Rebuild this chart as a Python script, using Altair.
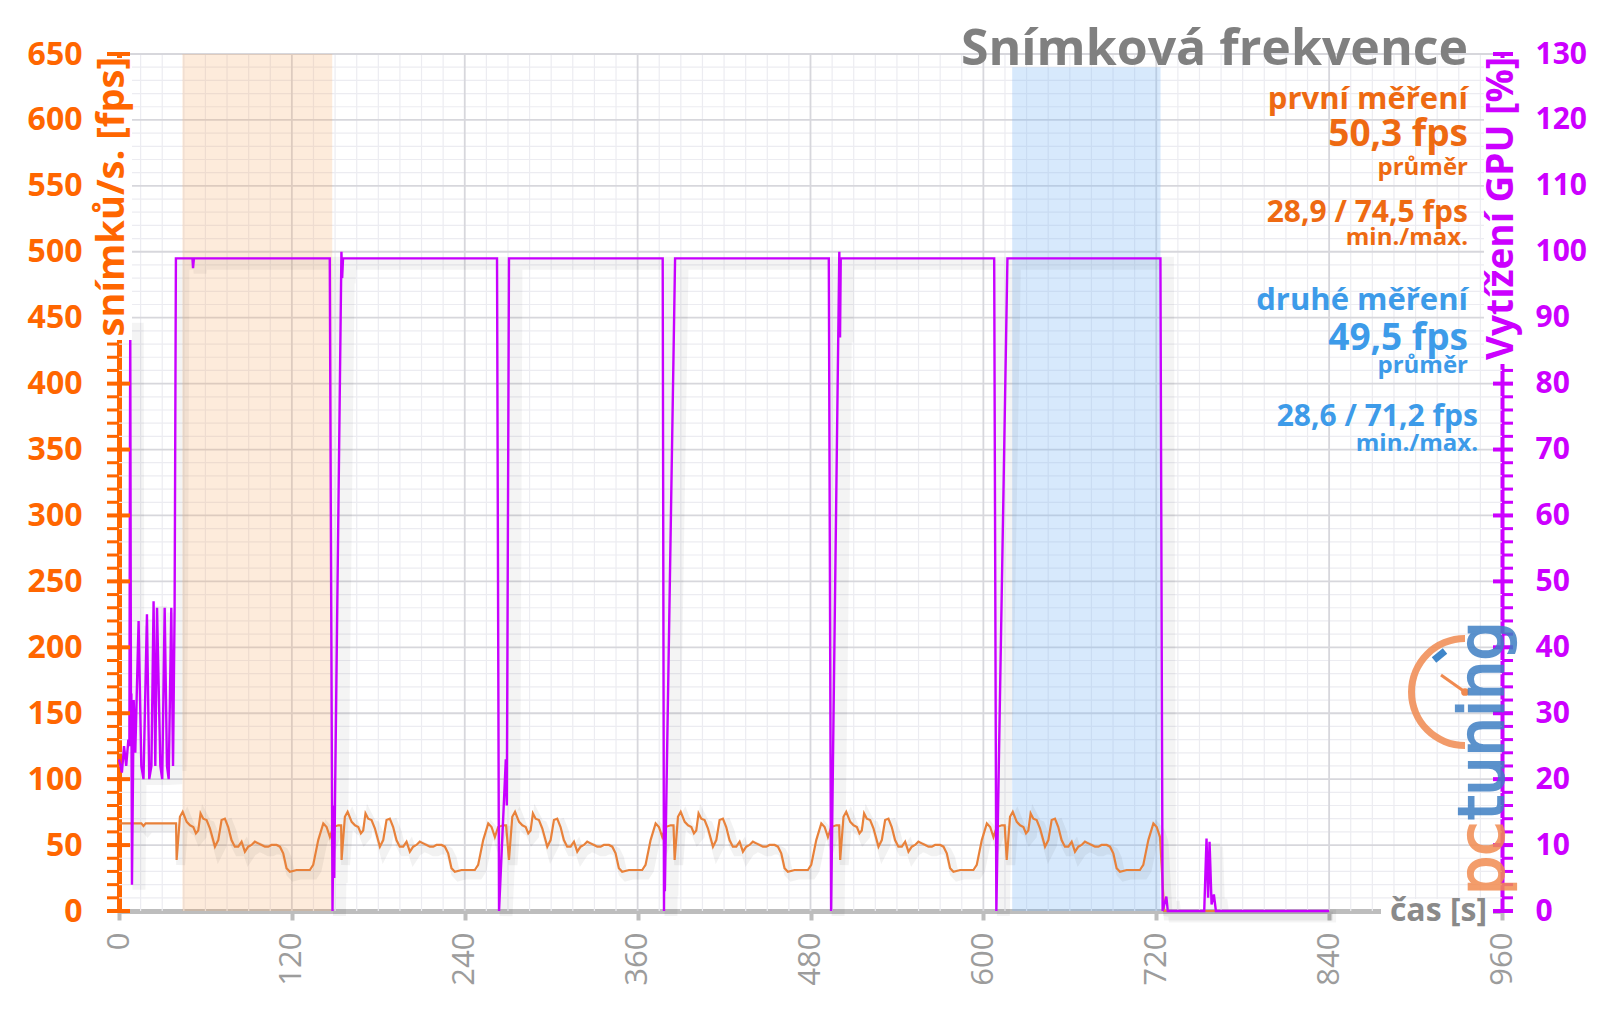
import math
import altair as alt
import pandas as pd

# ---------------- data ----------------
TIME_TICKS = list(range(0, 961, 120))
FPS_TICKS = list(range(0, 651, 50))
GPU_TICKS = list(range(0, 131, 10))

# frame rate: flat intro, six identical benchmark passes, outro
INTRO_T = [0.0, 15.5, 17.0, 18.5, 39.6]
INTRO_FPS = [66.5, 66.5, 64.5, 66.5, 66.5]
RUN_STARTS = [40.0, 154.5, 270.7, 385.7, 500.6, 616.2]
RUN_OFFSETS = [0.0, 2.3, 4.2, 7.0, 9.3, 11.6, 13.4, 15.0, 16.6, 18.5, 20.8, 23.1,
               26.6, 28.9, 31.2, 33.5, 35.8, 38.1, 40.4, 42.8, 45.1, 47.4, 49.7,
               52.0, 54.3, 56.7, 59.0, 61.3, 63.6, 65.9, 69.4, 71.7, 74.0, 76.3,
               78.6, 83.3, 87.9, 92.5, 94.8, 98.3, 101.8, 104.1, 106.4]
RUN_FPS = [38.7, 71.5, 75.3, 67.6, 65.0, 63.7, 58.9, 61.0, 74.0, 70.0, 69.0, 62.7,
           48.8, 53.8, 69.0, 70.0, 63.7, 53.8, 48.8, 48.8, 52.6, 45.0, 48.8,
           50.1, 52.6, 51.3, 50.1, 48.8, 48.8, 50.1, 50.1, 48.8, 43.8, 32.5,
           29.8, 31.1, 31.1, 31.1, 35.0, 53.8, 66.5, 63.7, 56.1]
GAP_OFFSETS = [108.7, 112.2, 114.2]
GAP_FPS = [63.7, 65.0, 65.0]
OUTRO_T = [725.5, 840.0]
OUTRO_FPS = [0.0, 0.0]

# GPU load [%]
GPU_T = [0, 2, 3.5, 5, 6.5, 7.2, 7.8, 8.3, 8.6, 9.0, 10.2, 11.3, 13.6, 15.5, 17.0,
         19.4, 21.0, 22.5, 24.0, 25.2, 26.4, 28.7, 30.0, 31.7, 33.3, 34.5, 36.3,
         37.5, 38.6, 39.5, 51.0, 51.4, 52.0, 146.3, 148.2, 149.0, 149.4, 150.0,
         154.4, 154.9, 155.5, 262.4, 263.8, 268.5, 269.2, 270.7, 377.4, 378.3,
         378.6, 378.9, 386.0, 492.7, 494.3, 500.0, 500.5, 501.0, 607.5, 609.0,
         616.7, 722.9, 724.4, 727.0, 728.0, 753.3, 754.9, 756.0, 757.0, 758.4,
         760.0, 761.4, 840.0]
GPU_V = [23, 21, 25, 22, 26, 25, 90, 30, 33, 4, 32, 24, 44, 22, 20,
         45, 20, 22, 47, 22, 46, 22, 20, 46, 22, 20, 46,
         22, 46, 99, 99, 97.5, 99, 99, 0, 16, 5, 18,
         100, 96, 99, 99, 0, 23, 16, 99, 99, 0,
         15, 3, 99, 99, 0, 100, 87, 99, 99, 0,
         99, 99, 0, 2.2, 0, 0, 11, 2, 10.5, 1,
         2.5, 0, 0]

ZONE_START = [44, 620]
ZONE_END = [148, 723]
ZONE_TOP = [650, 640]

TITLE = "Snímková frekvence"
FIRST = ["první měření", "50,3 fps", "průměr", "28,9 / 74,5 fps", "min./max."]
SECOND = ["druhé měření", "49,5 fps", "průměr", "28,6 / 71,2 fps", "min./max."]

# ---------------- tables ----------------
rows = list(zip(INTRO_T, INTRO_FPS))
for i, s in enumerate(RUN_STARTS):
    rows += [(s + o, v) for o, v in zip(RUN_OFFSETS, RUN_FPS)]
    if i < len(RUN_STARTS) - 1:
        rows += [(s + o, v) for o, v in zip(GAP_OFFSETS, GAP_FPS)]
rows += list(zip(OUTRO_T, OUTRO_FPS))
fps_df = pd.DataFrame(rows, columns=["t", "fps"])
gpu_df = pd.DataFrame({"t": GPU_T, "gpu": GPU_V})

W, H = 1383, 857
ORANGE = "#ff6600"
ORANGE_TXT = "#ee6a12"
MAGENTA = "#cc00ff"
BLUE = "#3d9be9"
GRAY = "#8a8a8a"

xs = alt.Scale(domain=[0, 960], nice=False, zero=False)
fs = alt.Scale(domain=[0, 650], nice=False)
gs = alt.Scale(domain=[0, 130], nice=False)

x_axis = alt.Axis(values=TIME_TICKS, labelAngle=270, labelFont="Open Sans",
                  labelFontSize=31, labelColor="#9c9c9c", domainColor="#bdbdbd",
                  domainWidth=5, tickColor="#bdbdbd", tickWidth=4, tickSize=9,
                  labelPadding=12, grid=False, title=None, labelFlush=False,
                  labelOverlap=False)


def X(f):
    return alt.X(f, type="quantitative", scale=xs, axis=x_axis)


def one():
    return pd.DataFrame({"a": [0]})


layers = []

# grid
minor_v = pd.DataFrame({"v": [t for t in range(15, 960, 15) if t % 120]})
major_v = pd.DataFrame({"v": TIME_TICKS[1:-1]})
minor_h = pd.DataFrame({"v": [v for v in range(10, 650, 10) if v % 50]})
major_h = pd.DataFrame({"v": FPS_TICKS[1:]})
layers.append(alt.Chart(minor_v).mark_rule(color="#ececf1", strokeWidth=1.2).encode(x=X("v")))
layers.append(alt.Chart(minor_h).mark_rule(color="#ececf1", strokeWidth=1.2).encode(
    y=alt.Y("v:Q", scale=fs, axis=None)))
layers.append(alt.Chart(major_v).mark_rule(color="#d7d7dc", strokeWidth=1.8).encode(x=X("v")))
layers.append(alt.Chart(major_h).mark_rule(color="#d7d7dc", strokeWidth=1.8).encode(
    y=alt.Y("v:Q", scale=fs, axis=None)))

# shaded zones
z1 = pd.DataFrame({"s": [ZONE_START[0]], "e": [ZONE_END[0]], "b": [0], "t": [ZONE_TOP[0]]})
z2 = pd.DataFrame({"s": [ZONE_START[1]], "e": [ZONE_END[1]], "b": [0], "t": [ZONE_TOP[1]]})
layers.append(alt.Chart(z1).mark_rect(color="#f7a35c", opacity=0.22).encode(
    x=X("s"), x2="e", y=alt.Y("b:Q", scale=fs, axis=None), y2="t"))
layers.append(alt.Chart(z2).mark_rect(color="#7ab6f5", opacity=0.3).encode(
    x=X("s"), x2="e", y=alt.Y("b:Q", scale=fs, axis=None), y2="t"))

# shadows
layers.append(alt.Chart(fps_df).mark_line(color="#000000", opacity=0.05, strokeWidth=9,
                                          xOffset=4, yOffset=5).encode(
    x=X("t"), y=alt.Y("fps:Q", scale=fs, axis=None)))
layers.append(alt.Chart(gpu_df).mark_line(color="#000000", opacity=0.045, strokeWidth=13,
                                          xOffset=7, yOffset=5).encode(
    x=X("t"), y=alt.Y("gpu:Q", scale=gs, axis=None)))

# fps line with left axis
layers.append(alt.Chart(fps_df).mark_line(color="#e8813a", strokeWidth=2.2).encode(
    x=X("t"),
    y=alt.Y("fps:Q", scale=fs, axis=alt.Axis(
        orient="left", values=FPS_TICKS, labelFont="Open Sans", labelFontWeight="bold",
        labelFontSize=32, labelColor=ORANGE, domainColor=ORANGE, domainWidth=5,
        ticks=False, tickSize=0, labelPadding=37, grid=False, title=None,
        labelFlush=False, labelOverlap=False))))

# gpu line with right axis
layers.append(alt.Chart(gpu_df).mark_line(color="#c800ff", strokeWidth=2.4).encode(
    x=X("t"),
    y=alt.Y("gpu:Q", scale=gs, axis=alt.Axis(
        orient="right", values=GPU_TICKS, labelFont="Open Sans", labelFontWeight="bold",
        labelFontSize=30, labelColor=MAGENTA, domainColor=MAGENTA, domainWidth=4,
        ticks=False, tickSize=0, labelPadding=33, grid=False, title=None,
        labelFlush=False, labelOverlap=False))))

# manual ticks
lt_minor = pd.DataFrame({"v": list(range(0, 651, 10))})
lt_major = pd.DataFrame({"v": FPS_TICKS})
rt_minor = pd.DataFrame({"v": list(range(0, 131, 2))})
rt_major = pd.DataFrame({"v": GPU_TICKS})
layers.append(alt.Chart(lt_minor).mark_rule(color=ORANGE, strokeWidth=3).encode(
    y=alt.Y("v:Q", scale=fs, axis=None), x=alt.value(-12), x2=alt.value(0)))
layers.append(alt.Chart(lt_major).mark_rule(color=ORANGE, strokeWidth=4).encode(
    y=alt.Y("v:Q", scale=fs, axis=None), x=alt.value(-12), x2=alt.value(11)))
layers.append(alt.Chart(rt_minor).mark_rule(color=MAGENTA, strokeWidth=3).encode(
    y=alt.Y("v:Q", scale=gs, axis=None), x=alt.value(W), x2=alt.value(W + 11)))
layers.append(alt.Chart(rt_major).mark_rule(color=MAGENTA, strokeWidth=4).encode(
    y=alt.Y("v:Q", scale=gs, axis=None), x=alt.value(W - 9), x2=alt.value(W + 11)))


def wrect(x1, x2, y1, y2):
    return alt.Chart(one()).mark_rect(color="white").encode(
        x=alt.value(x1), x2=alt.value(x2), y=alt.value(y1), y2=alt.value(y2))


def txt(text, x, y, size, color, weight="bold", align="right", angle=0,
        baseline="alphabetic", font="Open Sans", opacity=1.0, stroke=None):
    kw = {}
    if stroke is not None:
        kw = {"stroke": color, "strokeWidth": stroke}
    return alt.Chart(one()).mark_text(
        text=text, font=font, fontSize=size, fontWeight=weight, color=color,
        align=align, baseline=baseline, angle=angle, opacity=opacity, **kw).encode(
        x=alt.value(x), y=alt.value(y))


# axis titles with white backing
layers.append(wrect(-27, 13, 4, 286))
layers.append(txt("snímků/s. [fps]", -6, 3, 38, ORANGE, align="right", angle=270,
                  baseline="middle"))
layers.append(wrect(W - 18, W + 18, 4, 310))
layers.append(txt("Vytížení GPU [%]", W, 3, 37, MAGENTA, align="right", angle=270,
                  baseline="middle"))
layers.append(wrect(W - 121, W - 9, 845, 870))
layers.append(txt("čas [s]", W - 15, H, 32, GRAY, align="right", baseline="middle"))

# title and statistics
layers.append(txt(TITLE, 1349, 11, 50, "#808080"))
fy = [55, 92, 121, 168, 191]
fsz = [31, 37, 24, 30, 24]
for s, y, z in zip(FIRST, fy, fsz):
    layers.append(txt(s, 1349, y, z, ORANGE_TXT))
sy = [256, 296, 319, 372, 397]
sx = [1349, 1349, 1349, 1359, 1359]
for s, x, y, z in zip(SECOND, sx, sy, fsz):
    layers.append(txt(s, x, y, z, BLUE))

# logo
layers.append(alt.Chart(one()).mark_arc(color="#f08a50", theta=math.pi, theta2=2 * math.pi,
                                        radius=57, radius2=50, x=1346, y=638).encode(
    opacity=alt.value(0.85)))
layers.append(alt.Chart(one()).mark_rule(color="#f08a50", strokeWidth=3).encode(
    x=alt.value(1322), y=alt.value(621), x2=alt.value(1346), y2=alt.value(638)))
layers.append(alt.Chart(one()).mark_circle(color="#f08a50", size=60, opacity=1).encode(
    x=alt.value(1346), y=alt.value(638)))
layers.append(alt.Chart(one()).mark_rule(color="#3f86c9", strokeWidth=7).encode(
    x=alt.value(1315), y=alt.value(606), x2=alt.value(1326), y2=alt.value(597)))
layers.append(txt("tuning", W + 1, 766, 62, "#3f7fc4", weight="normal", align="left",
                  angle=270, font="DejaVu Sans", opacity=0.85, stroke=2.2))
layers.append(txt("pc", W + 1, 841, 62, "#f28c52", weight="normal", align="left",
                  angle=270, font="DejaVu Sans", opacity=0.85, stroke=2.2))

chart = alt.layer(*layers).resolve_scale(y="independent").properties(
    width=W, height=H,
    autosize=alt.AutoSizeParams(type="none"),
    padding={"left": 119, "top": 54, "right": 98, "bottom": 98},
    background="white",
).configure_view(stroke=None)

chart.save("out.html", embed_options={"renderer": "svg", "actions": False})
